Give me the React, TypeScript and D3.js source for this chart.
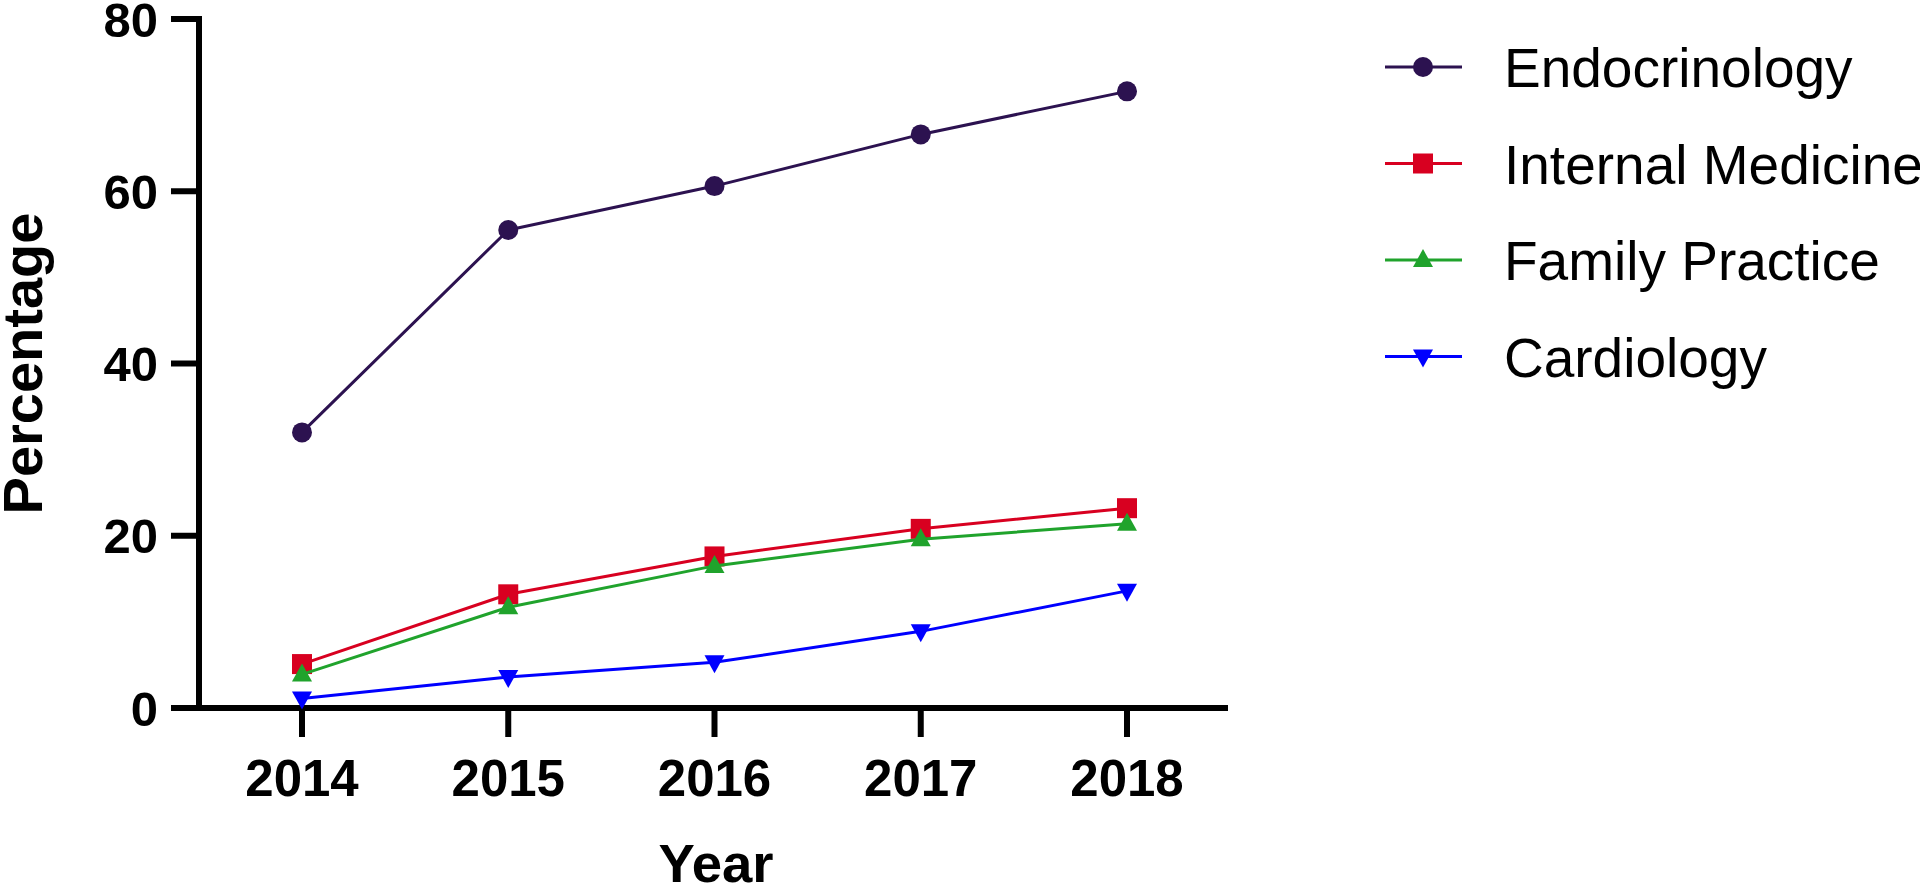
import React from "react";
import * as d3 from "d3";

const years = [2014, 2015, 2016, 2017, 2018];
const yTicks = [0, 20, 40, 60, 80];
const seriesNames = ["Endocrinology", "Internal Medicine", "Family Practice", "Cardiology"];
const endocrinology = [32.0, 55.5, 60.6, 66.6, 71.6];
const internalMedicine = [5.1, 13.2, 17.6, 20.8, 23.2];
const familyPractice = [3.9, 11.7, 16.5, 19.6, 21.4];
const cardiology = [1.1, 3.6, 5.3, 8.9, 13.6];
const seriesColors = ["#2c1250", "#d80020", "#20a32c", "#0000ff"];
const seriesMarkers = ["circle", "square", "triangleUp", "triangleDown"];

const FONT = "Arial, 'Liberation Sans', Helvetica, sans-serif";

function Marker({ type, x, y, color }: { type: string; x: number; y: number; color: string }) {
  if (type === "circle") return <circle cx={x} cy={y} r={10} fill={color} />;
  if (type === "square") return <rect x={x - 10} y={y - 10} width={20} height={20} fill={color} />;
  if (type === "triangleUp")
    return <path d={`M${x},${y - 11} L${x + 10},${y + 7} L${x - 10},${y + 7} Z`} fill={color} />;
  return <path d={`M${x},${y + 11} L${x + 10},${y - 7} L${x - 10},${y - 7} Z`} fill={color} />;
}

export default function App() {
  const allSeries = [endocrinology, internalMedicine, familyPractice, cardiology];
  const x = d3.scaleLinear().domain([2014, 2018]).range([302, 1127]);
  const y = d3.scaleLinear().domain([0, 80]).range([708, 19]);
  const line = d3
    .line<number>()
    .x((_, i) => x(years[i]))
    .y((d) => y(d));

  const axisX0 = 199;
  const axisY0 = 708;

  return (
    <svg
      width={1920}
      height={886}
      style={{ position: "absolute", left: 0, top: 0, background: "#fff" }}
      fontFamily={FONT}
    >
      {/* Y axis */}
      <line x1={axisX0} x2={axisX0} y1={y(80) - 3} y2={axisY0} stroke="#000" strokeWidth={6} />
      {yTicks.map((t) => (
        <g key={t}>
          <line x1={171} x2={axisX0} y1={y(t)} y2={y(t)} stroke="#000" strokeWidth={6} />
          <text
            x={158}
            y={y(t)}
            dy="0.36em"
            textAnchor="end"
            fontSize={49}
            fontWeight="bold"
            fill="#000"
          >
            {t}
          </text>
        </g>
      ))}
      {/* X axis */}
      <line x1={171} x2={1228} y1={axisY0} y2={axisY0} stroke="#000" strokeWidth={6} />
      {years.map((yr) => (
        <g key={yr}>
          <line x1={x(yr)} x2={x(yr)} y1={axisY0} y2={737} stroke="#000" strokeWidth={6} />
          <text x={x(yr)} y={796} textAnchor="middle" fontSize={51} fontWeight="bold" fill="#000">
            {yr}
          </text>
        </g>
      ))}
      {/* Axis titles */}
      <text x={716} y={882} textAnchor="middle" fontSize={54.5} fontWeight="bold" fill="#000">
        Year
      </text>
      <text
        transform={`translate(42, ${(y(80) + axisY0) / 2}) rotate(-90)`}
        textAnchor="middle"
        fontSize={56}
        fontWeight="bold"
        fill="#000"
      >
        Percentage
      </text>
      {/* Series */}
      {allSeries.map((s, si) => (
        <g key={seriesNames[si]}>
          <path d={line(s) || ""} fill="none" stroke={seriesColors[si]} strokeWidth={3} />
          {s.map((v, i) => (
            <Marker key={i} type={seriesMarkers[si]} x={x(years[i])} y={y(v)} color={seriesColors[si]} />
          ))}
        </g>
      ))}
      {/* Legend */}
      {seriesNames.map((name, i) => {
        const cy = 67 + i * 96.5;
        return (
          <g key={name}>
            <line x1={1385} x2={1462} y1={cy} y2={cy} stroke={seriesColors[i]} strokeWidth={3} />
            <Marker type={seriesMarkers[i]} x={1423} y={cy} color={seriesColors[i]} />
            <text x={1504} y={cy + 20} fontSize={55} fill="#000">
              {name}
            </text>
          </g>
        );
      })}
    </svg>
  );
}
